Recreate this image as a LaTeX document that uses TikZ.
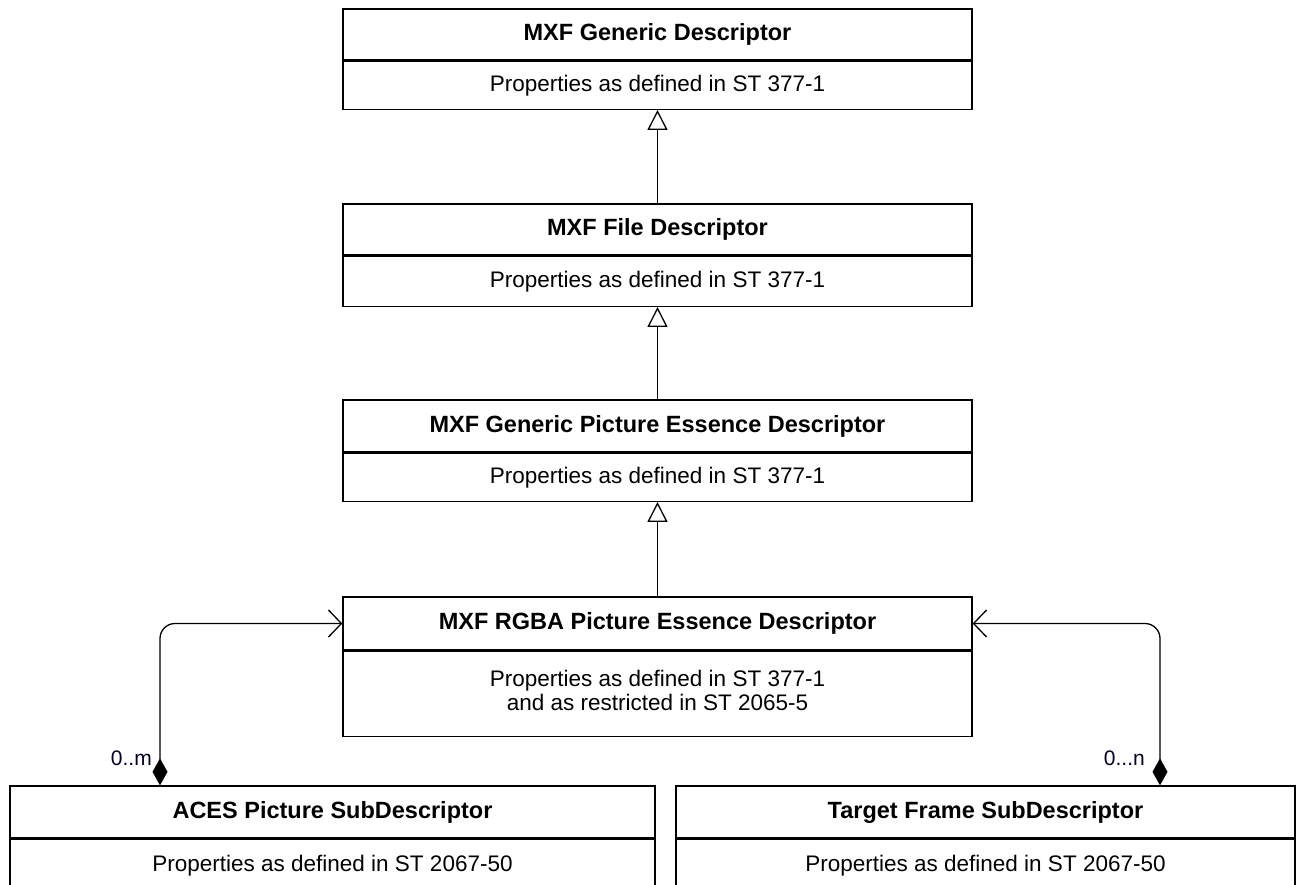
\documentclass[tikz,border=0pt]{standalone}
\usepackage{fontspec}
\setmainfont{Liberation Sans}
\usetikzlibrary{arrows.meta}
\begin{document}
\begin{tikzpicture}[x=1pt,y=-1pt,
  box/.style={draw, line width=1.3pt, inner sep=0pt, align=center},
  hd/.style={box, font=\fontsize{23.5}{25}\selectfont\bfseries},
  bd/.style={box, anchor=north, font=\fontsize{22.5}{25}\selectfont},
  gen/.style={draw, line width=1.3pt, -{Triangle[open, length=20pt, width=20pt, line width=1.3pt]}},
  assoc/.style={draw, line width=1.3pt, rounded corners=15pt,
    {Diamond[length=27pt, width=15pt]}-{Straight Barb[length=13pt, width=27pt, line width=1.3pt]}},
  lbl/.style={font=\fontsize{21}{24}\selectfont, text=black!85!blue, anchor=east, inner sep=0pt}
]
\useasboundingbox (0,0) rectangle (1301,884);
\fill[white] (0,0) rectangle (1301,884);

% Box 1
\node[hd, minimum width=629pt, minimum height=51pt] (g1h) at (657.5,34.5) {MXF Generic Descriptor};
\node[bd, minimum width=629pt, minimum height=48pt] (g1b) at (g1h.south) {Properties as defined in ST 377-1};
% Box 2
\node[hd, minimum width=629pt, minimum height=51pt] (g2h) at (657.5,229.5) {MXF File Descriptor};
\node[bd, minimum width=629pt, minimum height=50pt] (g2b) at (g2h.south) {Properties as defined in ST 377-1};
% Box 3
\node[hd, minimum width=629pt, minimum height=52pt] (g3h) at (657.5,426) {MXF Generic Picture Essence Descriptor};
\node[bd, minimum width=629pt, minimum height=48pt] (g3b) at (g3h.south) {Properties as defined in ST 377-1};
% Box 4
\node[hd, minimum width=629pt, minimum height=53pt] (g4h) at (657.5,623.5) {MXF RGBA Picture Essence Descriptor};
\node[bd, minimum width=629pt, minimum height=85pt] (g4b) at (g4h.south) {\raisebox{6pt}{\shortstack{Properties as defined in ST 377-1\\ and as restricted in ST 2065-5}}};
% Bottom left
\node[hd, minimum width=645pt, minimum height=52pt] (ah) at (332.5,812) {ACES Picture SubDescriptor};
\node[bd, minimum width=645pt, minimum height=60pt] (ab) at (ah.south) {\raisebox{11pt}{Properties as defined in ST 2067-50}};
% Bottom right
\node[hd, minimum width=619pt, minimum height=52pt] (th) at (985.5,812) {Target Frame SubDescriptor};
\node[bd, minimum width=619pt, minimum height=60pt] (tb) at (th.south) {\raisebox{11pt}{Properties as defined in ST 2067-50}};

% Generalizations
\draw[gen] (g2h.north) -- (g1b.south);
\draw[gen] (g3h.north) -- (g2b.south);
\draw[gen] (g4h.north) -- (g3b.south);

% Associations
\coordinate (lx) at (160,0);
\coordinate (rx) at (1160,0);
\draw[assoc] (ah.north -| lx) |- (g4h.west);
\draw[assoc] (th.north -| rx) |- (g4h.east);

\node[lbl] (lm) at (152,758) {0..m};
\node[lbl] (ln) at (1145,758) {0...n};
\end{tikzpicture}
\end{document}
